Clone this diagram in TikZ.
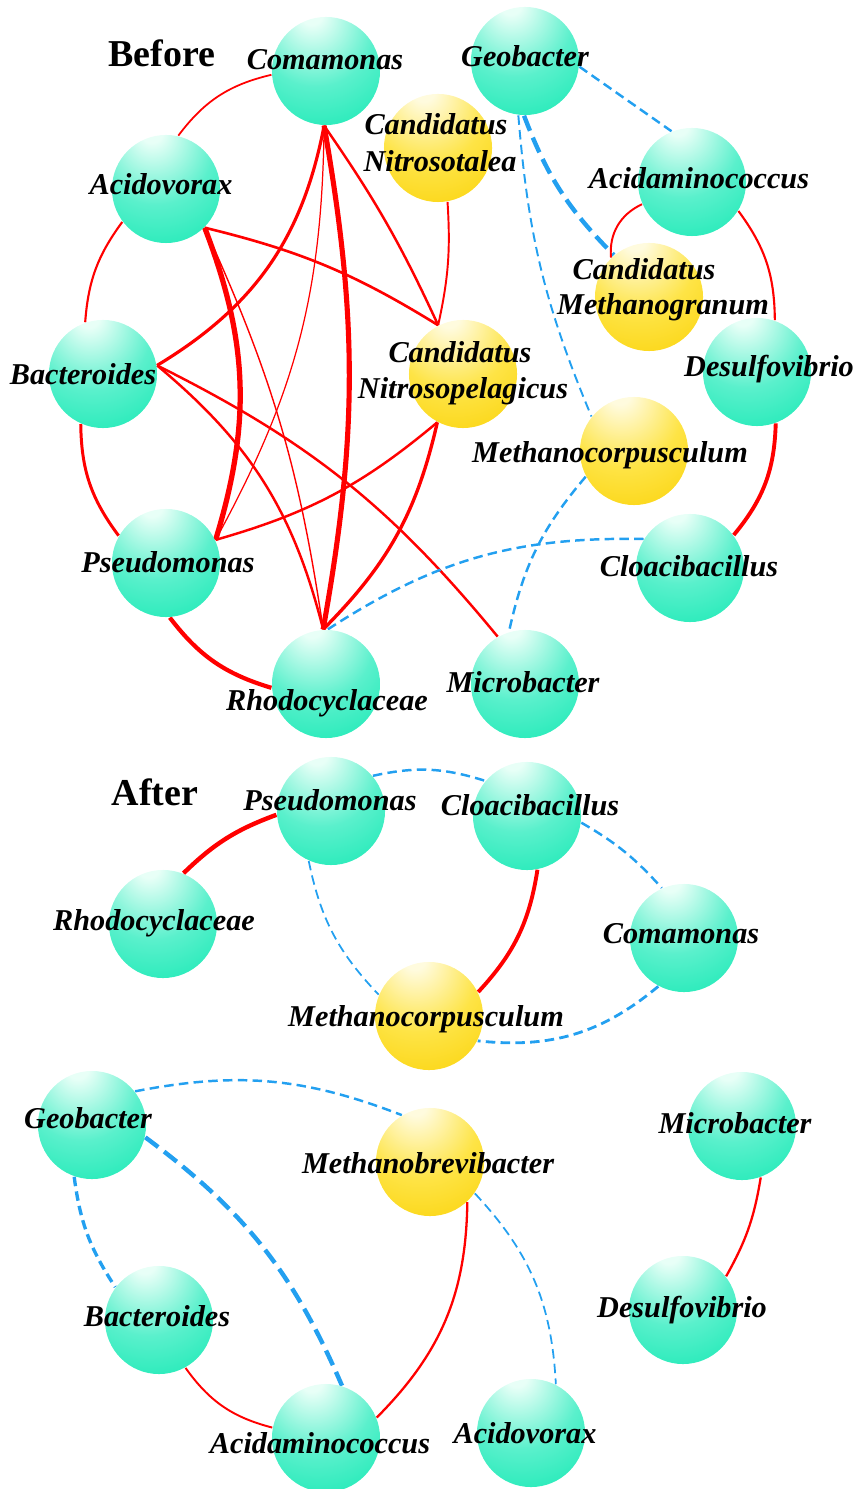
\documentclass[tikz,border=0pt]{standalone}
\usepackage{fontspec}
\setmainfont{Liberation Serif}
\definecolor{gHi}{RGB}{232,255,247}
\definecolor{gMid}{RGB}{90,240,204}
\definecolor{gBase}{RGB}{12,232,176}
\definecolor{yHi}{RGB}{255,251,222}
\definecolor{yMid}{RGB}{254,228,70}
\definecolor{yBase}{RGB}{250,208,0}
\definecolor{lred}{RGB}{255,0,0}
\definecolor{lblue}{RGB}{35,160,240}
\pgfdeclareradialshading{gball}{\pgfpoint{-7bp}{28bp}}{color(0bp)=(gHi); color(5bp)=(gHi); color(27bp)=(gMid); color(52bp)=(gBase); color(90bp)=(gBase)}
\pgfdeclareradialshading{yball}{\pgfpoint{-7bp}{28bp}}{color(0bp)=(yHi); color(5bp)=(yHi); color(27bp)=(yMid); color(52bp)=(yBase); color(90bp)=(yBase)}
\pgfdeclarelayer{bg}
\pgfsetlayers{bg,main}
\tikzset{
  gnode/.style={circle, minimum size=1.08cm, inner sep=0pt, shading=gball},
  ynode/.style={circle, minimum size=1.08cm, inner sep=0pt, shading=yball},
  lbl/.style={font=\fontsize{8.6}{10.2}\selectfont\bfseries\itshape, inner sep=0pt, anchor=base},
  ttl/.style={font=\fontsize{10.8}{13}\selectfont\bfseries, inner sep=0pt, anchor=base},
  rl/.style={draw=lred, line width=#1},
  bl/.style={draw=lblue, line width=#1, dash pattern=on 2.7pt off 1.5pt},
  blk/.style={draw=lblue, line width=#1, dash pattern=on 4.6pt off 2.1pt},
}
\begin{document}
\begin{tikzpicture}[x=0.01cm, y=-0.01cm]
\useasboundingbox (0,0) rectangle (857,1489);
% ---------- Before ----------
\node[gnode] (comB) at (326,71) {};
\node[gnode] (geoB) at (525,61) {};
\node[ynode] (ntal) at (438,148) {};
\node[gnode] (acvB) at (166,189) {};
\node[gnode] (acmB) at (692,182) {};
\node[ynode] (mgran) at (649,297) {};
\node[gnode] (bacB) at (103,374) {};
\node[ynode] (npel) at (463,374) {};
\node[gnode] (desB) at (757,372) {};
\node[ynode] (mcor) at (634,451) {};
\node[gnode] (psdB) at (166,563) {};
\node[gnode] (cloB) at (690,568) {};
\node[gnode] (rhoB) at (326,684) {};
\node[gnode] (micB) at (525,684) {};
% ---------- After ----------
\node[gnode] (psdA) at (331,811) {};
\node[gnode] (cloA) at (527,816) {};
\node[gnode] (rhoA) at (163,924) {};
\node[gnode] (comA) at (684,938) {};
\node[ynode] (mcorA) at (429,1016) {};
\node[gnode] (geoA) at (92,1125) {};
\node[ynode] (mbre) at (430,1162) {};
\node[gnode] (micA) at (742,1126) {};
\node[gnode] (bacA) at (159,1320) {};
\node[gnode] (desA) at (683,1310) {};
\node[gnode] (acmA) at (326,1438) {};
\node[gnode] (acvA) at (531,1433) {};
% ---------- edges ----------
\begin{pgfonlayer}{bg}
\draw[rl=0.5pt] (acvB.77) to[bend left=20] (comB.184);
\draw[rl=0.6pt] (acvB.217) to[bend right=16] (bacB.109);
\draw[rl=0.85pt] (bacB.246) to[bend right=18] (psdB.150);
\draw[rl=1.2pt] (psdB.274) to[bend right=18] (rhoB.184);
\draw[rl=0.9pt] (comB.268) to[bend left=24] (bacB.9);
\draw[rl=0.35pt] (comB.268) to[bend left=14] (psdB.25);
\draw[rl=1.45pt] (comB.268) to[bend left=10] (rhoB.93);
\draw[rl=0.7pt] (comB.268) to[bend left=5] (npel.117);
\draw[rl=1.5pt] (acvB.315) to[bend left=19] (psdB.25);
\draw[rl=0.4pt] (acvB.315) to[bend left=8] (rhoB.93);
\draw[rl=0.75pt] (acvB.315) to[bend left=9] (npel.117);
\draw[rl=0.7pt] (bacB.9) to[bend left=18] (rhoB.93);
\draw[rl=0.7pt] (bacB.9) to[bend left=12] (micB.120);
\draw[rl=0.7pt] (psdB.25) to[bend right=12] (npel.242);
\draw[rl=0.95pt] (npel.242) to[bend left=16] (rhoB.93);
\draw[rl=0.55pt] (ntal.280) to[bend left=8] (npel.117);
\draw[bl=0.7pt] (geoB.354) -- (acmB.112);
\draw[blk=1.25pt] (geoB.269) to[bend right=12] (mgran.130);
\draw[bl=0.55pt] (geoB.263) to[bend right=9] (mcor.141);
\draw[rl=0.55pt] (acmB.204) to[bend right=35] (mgran.134);
\draw[rl=0.6pt] (acmB.328) to[bend left=18] (desB.71);
\draw[rl=1.1pt] (desB.290) to[bend left=19] (cloB.37);
\draw[bl=0.7pt] (mcor.208) to[bend right=14] (micB.107);
\draw[bl=0.7pt] (rhoB.88) to[bend left=17] (cloB.148);
% after
\draw[rl=1.25pt] (psdA.184) to[bend right=12] (rhoA.68);
\draw[bl=0.7pt] (psdA.40) to[bend left=15] (cloA.140);
\draw[bl=0.5pt] (psdA.246) to[bend right=16] (mcorA.157);
\draw[rl=1.1pt] (cloA.281) to[bend left=17] (mcorA.26);
\draw[bl=0.7pt] (cloA.353) to[bend left=9] (comA.114);
\draw[bl=0.8pt] (comA.242) to[bend left=23] (mcorA.333);
\draw[bl=0.7pt] (geoA.38) to[bend left=16] (mbre.121);
\draw[bl=0.95pt] (geoA.251) to[bend right=13] (bacA.143);
\draw[blk=1.25pt] (geoA.347) to[bend left=15] (acmA.73);
\draw[rl=0.55pt] (bacA.299) to[bend right=20] (acmA.169);
\draw[rl=0.65pt] (mbre.313) to[bend left=22] (acmA.22);
\draw[bl=0.5pt] (mbre.325) to[bend left=20] (acvA.63);
\draw[rl=0.65pt] (micA.290) to[bend left=10] (desA.38);
\end{pgfonlayer}
% ---------- labels ----------
\node[ttl] (tBefore) at (162,67) {Before};
\node[lbl] (comBt) at (325,70) {Comamonas};
\node[lbl] (geoBt) at (525,67) {Geobacter};
\node[lbl] (ntalt1) at (436,135) {Candidatus};
\node[lbl] (ntalt2) at (440,172) {Nitrosotalea};
\node[lbl] (acvBt) at (161,195) {Acidovorax};
\node[lbl] (acmBt) at (699,189) {Acidaminococcus};
\node[lbl] (mgrant1) at (644,280) {Candidatus};
\node[lbl] (mgrant2) at (663,315) {Methanogranum};
\node[lbl] (bacBt) at (83,385) {Bacteroides};
\node[lbl] (npelt1) at (460,363) {Candidatus};
\node[lbl] (npelt2) at (463,399) {Nitrosopelagicus};
\node[lbl] (desBt) at (769,377) {Desulfovibrio};
\node[lbl] (mcort) at (610,463) {Methanocorpusculum};
\node[lbl] (psdBt) at (168,573) {Pseudomonas};
\node[lbl] (cloBt) at (689,577) {Cloacibacillus};
\node[lbl] (rhoBt) at (327,710) {Rhodocyclaceae};
\node[lbl] (micBt) at (523,692) {Microbacter};
\node[ttl] (tAfter) at (155,805) {After};
\node[lbl] (psdAt) at (330,810) {Pseudomonas};
\node[lbl] (cloAt) at (530,815) {Cloacibacillus};
\node[lbl] (rhoAt) at (154,930) {Rhodocyclaceae};
\node[lbl] (comAt) at (681,943) {Comamonas};
\node[lbl] (mcorAt) at (426,1026) {Methanocorpusculum};
\node[lbl] (geoAt) at (88,1128) {Geobacter};
\node[lbl] (mbret) at (428,1173) {Methanobrevibacter};
\node[lbl] (micAt) at (735,1133) {Microbacter};
\node[lbl] (bacAt) at (157,1326) {Bacteroides};
\node[lbl] (desAt) at (682,1317) {Desulfovibrio};
\node[lbl] (acmAt) at (320,1453) {Acidaminococcus};
\node[lbl] (acvAt) at (525,1443) {Acidovorax};
\end{tikzpicture}
\end{document}
